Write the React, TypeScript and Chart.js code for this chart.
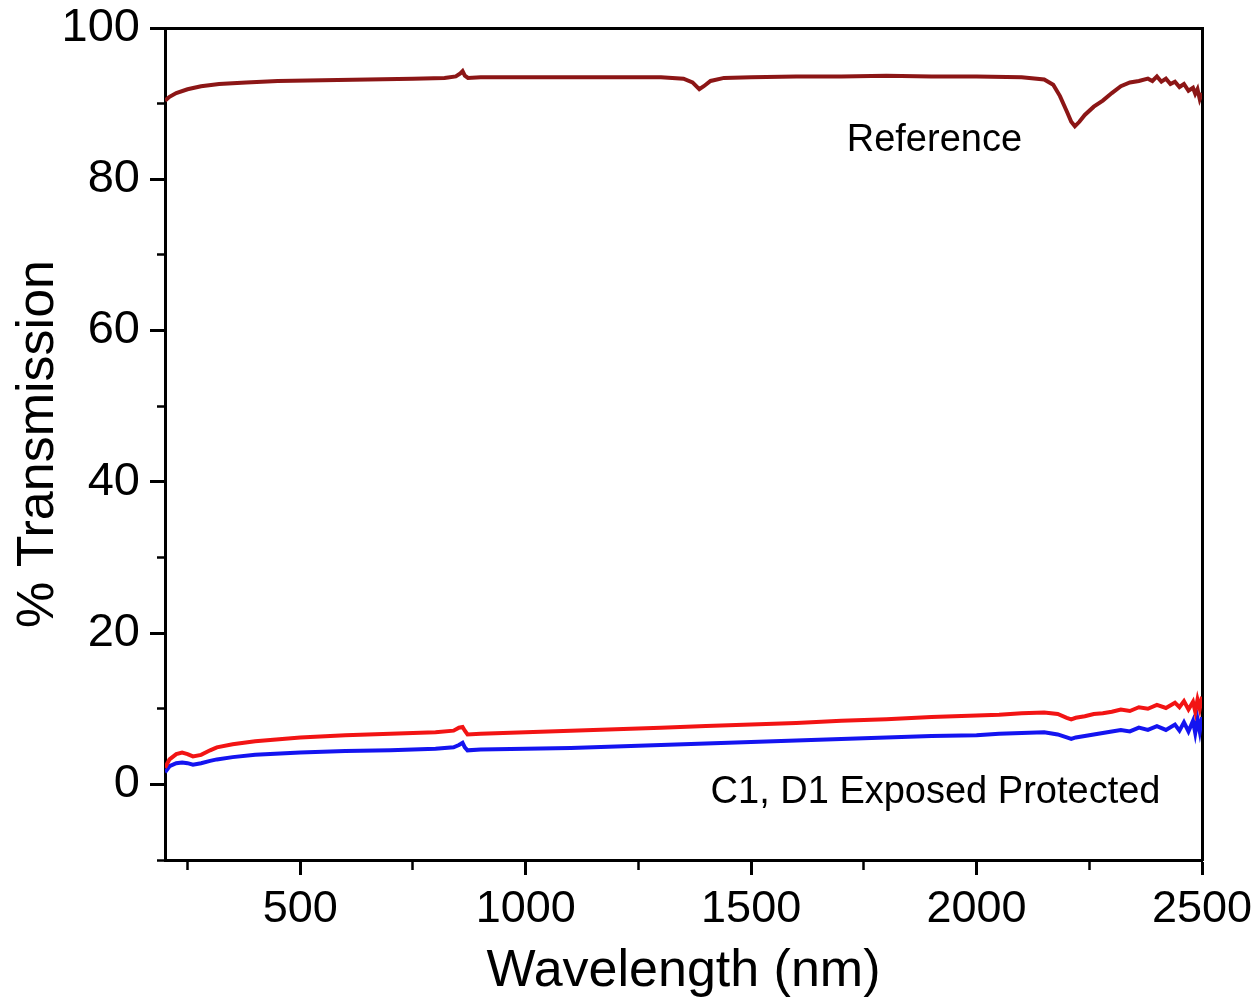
import React, { useEffect, useRef } from "react";
import { Chart, registerables } from "chart.js";

Chart.register(...registerables);

// ---- data ----
const refWavelength = [200, 210, 225, 250, 280, 320, 380, 450, 550, 650, 750, 820, 845, 855, 860, 865, 872, 900, 1000, 1100, 1200, 1300, 1350, 1370, 1385, 1395, 1410, 1440, 1500, 1600, 1700, 1800, 1900, 2000, 2100, 2150, 2170, 2185, 2200, 2210, 2218, 2228, 2240, 2260, 2280, 2300, 2320, 2340, 2360, 2380, 2390, 2400, 2410, 2420, 2430, 2440, 2450, 2460, 2470, 2480, 2485, 2490, 2495, 2500];
const refTransmission = [90.4, 90.9, 91.4, 91.9, 92.3, 92.6, 92.8, 93.0, 93.1, 93.2, 93.3, 93.4, 93.6, 94.0, 94.3, 93.7, 93.4, 93.5, 93.5, 93.5, 93.5, 93.5, 93.3, 92.8, 91.9, 92.3, 93.0, 93.4, 93.5, 93.6, 93.6, 93.7, 93.6, 93.6, 93.5, 93.2, 92.5, 91.0, 89.0, 87.6, 87.0, 87.6, 88.5, 89.6, 90.4, 91.4, 92.3, 92.8, 93.0, 93.3, 93.0, 93.6, 92.9, 93.3, 92.6, 92.9, 92.2, 92.6, 91.7, 92.1, 91.3, 91.9, 90.6, 91.4];

const sampleWavelength = [200, 210, 225, 238, 250, 262, 280, 300, 315, 350, 400, 500, 600, 700, 800, 840, 852, 860, 865, 871, 900, 1000, 1100, 1200, 1300, 1400, 1500, 1600, 1700, 1800, 1900, 2000, 2050, 2100, 2150, 2180, 2200, 2210, 2220, 2240, 2260, 2280, 2300, 2320, 2340, 2360, 2380, 2400, 2420, 2440, 2450, 2460, 2470, 2480, 2485, 2490, 2495, 2500];
const c1Transmission = [2.2, 3.3, 4.0, 4.2, 4.0, 3.7, 3.9, 4.5, 4.9, 5.3, 5.7, 6.2, 6.5, 6.7, 6.9, 7.1, 7.5, 7.6, 7.1, 6.6, 6.7, 6.9, 7.1, 7.3, 7.5, 7.7, 7.9, 8.1, 8.4, 8.6, 8.9, 9.1, 9.2, 9.4, 9.5, 9.3, 8.8, 8.6, 8.8, 9.0, 9.3, 9.4, 9.6, 9.9, 9.7, 10.2, 10.0, 10.5, 10.1, 10.8, 10.2, 11.0, 9.9, 10.9, 9.6, 11.2, 10.0, 11.6];
const d1Transmission = [1.6, 2.4, 2.8, 2.9, 2.8, 2.6, 2.8, 3.1, 3.3, 3.6, 3.9, 4.2, 4.4, 4.5, 4.7, 4.9, 5.2, 5.5, 4.9, 4.5, 4.6, 4.7, 4.8, 5.0, 5.2, 5.4, 5.6, 5.8, 6.0, 6.2, 6.4, 6.5, 6.7, 6.8, 6.9, 6.6, 6.2, 6.0, 6.2, 6.4, 6.6, 6.8, 7.0, 7.2, 7.0, 7.5, 7.2, 7.7, 7.2, 7.9, 7.1, 8.2, 7.0, 8.4, 6.8, 8.6, 7.0, 8.9];

const xTickValues = [250, 500, 750, 1000, 1250, 1500, 1750, 2000, 2250, 2500];
const xLabelValues = [500, 1000, 1500, 2000, 2500];
const yTickValues = [-10, 0, 10, 20, 30, 40, 50, 60, 70, 80, 90, 100];
const yLabelValues = [0, 20, 40, 60, 80, 100];

const textLabels = [
  { text: "Reference", x: 1712, y: 85.1 },
  { text: "C1, D1 Exposed Protected", x: 1410, y: -1.1 },
];

const FONT = "'Liberation Sans', Arial, sans-serif";

const toPoints = (xs: number[], ys: number[]) => xs.map((x, i) => ({ x, y: ys[i] }));

const textPlugin = {
  id: "textLabels",
  afterDatasetsDraw(chart: any) {
    const { ctx, scales } = chart;
    ctx.save();
    ctx.font = `38px ${FONT}`;
    ctx.fillStyle = "#000";
    ctx.textAlign = "left";
    ctx.textBaseline = "middle";
    for (const t of textLabels) {
      ctx.fillText(t.text, scales.x.getPixelForValue(t.x), scales.y.getPixelForValue(t.y));
    }
    ctx.restore();
  },
};

export default function App() {
  const ref = useRef<HTMLCanvasElement | null>(null);

  useEffect(() => {
    if (!ref.current) return;
    const chart = new Chart(ref.current, {
      type: "line",
      data: {
        datasets: [
          {
            label: "Reference",
            data: toPoints(refWavelength, refTransmission),
            borderColor: "#8c1616",
            borderWidth: 4,
            pointRadius: 0,
            tension: 0,
          },
          {
            label: "C1 Exposed",
            data: toPoints(sampleWavelength, c1Transmission),
            borderColor: "#f21414",
            borderWidth: 4,
            pointRadius: 0,
            tension: 0,
          },
          {
            label: "D1 Protected",
            data: toPoints(sampleWavelength, d1Transmission),
            borderColor: "#1414f0",
            borderWidth: 4,
            pointRadius: 0,
            tension: 0,
          },
        ],
      },
      options: {
        animation: false,
        responsive: true,
        maintainAspectRatio: false,
        layout: { padding: { top: 28, right: 57, left: 0, bottom: 0 } },
        plugins: { legend: { display: false }, tooltip: { enabled: false } },
        scales: {
          x: {
            type: "linear",
            position: "bottom",
            min: 200,
            max: 2500,
            afterBuildTicks: (s: any) => {
              s.ticks = xTickValues.map((v) => ({ value: v }));
            },
            afterFit: (s: any) => {
              s.height = 142;
              s.paddingLeft = 0;
              s.paddingRight = 0;
            },
            ticks: {
              autoSkip: false,
              maxRotation: 0,
              padding: 8,
              color: "#000",
              font: { family: FONT, size: 45 },
              callback: (v: any) => (xLabelValues.includes(Number(v)) ? String(v) : ""),
            },
            grid: {
              drawOnChartArea: false,
              drawTicks: true,
              tickLength: 15,
              tickColor: "#000",
              tickWidth: (c: any) => (xLabelValues.includes(c.tick?.value) ? 3 : 2.5),
              tickBorderDash: (c: any) => (xLabelValues.includes(c.tick?.value) ? [] : [8, 50]),
            },
            border: { display: true, color: "#000", width: 3 },
            title: {
              display: true,
              text: "Wavelength (nm)",
              color: "#000",
              font: { family: FONT, size: 52, lineHeight: 1 },
              padding: { top: 0, bottom: 4 },
            },
          },
          y: {
            type: "linear",
            position: "left",
            min: -10,
            max: 100,
            afterBuildTicks: (s: any) => {
              s.ticks = yTickValues.map((v) => ({ value: v }));
            },
            afterFit: (s: any) => {
              s.width = 165;
              s.paddingTop = 0;
              s.paddingBottom = 0;
            },
            ticks: {
              autoSkip: false,
              padding: 10,
              color: "#000",
              font: { family: FONT, size: 47 },
              callback: (v: any) => (yLabelValues.includes(Number(v)) ? String(v) : ""),
            },
            grid: {
              drawOnChartArea: false,
              drawTicks: true,
              tickLength: 15,
              tickColor: "#000",
              tickWidth: (c: any) => (yLabelValues.includes(c.tick?.value) ? 3 : 2.5),
              tickBorderDash: (c: any) => (yLabelValues.includes(c.tick?.value) ? [] : [0, 7, 8, 50]),
            },
            border: { display: true, color: "#000", width: 3 },
            title: {
              display: true,
              text: "% Transmission",
              color: "#000",
              font: { family: FONT, size: 52, lineHeight: 1 },
              padding: { top: 13, bottom: 0 },
            },
          },
          x2: {
            type: "linear",
            position: "top",
            min: 200,
            max: 2500,
            ticks: { display: false },
            grid: { display: false },
            border: { display: true, color: "#000", width: 3 },
            afterFit: (s: any) => {
              s.height = 0;
              s.paddingLeft = 0;
              s.paddingRight = 0;
            },
          },
          y2: {
            type: "linear",
            position: "right",
            min: -10,
            max: 100,
            ticks: { display: false },
            grid: { display: false },
            border: { display: true, color: "#000", width: 3 },
            afterFit: (s: any) => {
              s.width = 0;
              s.paddingTop = 0;
              s.paddingBottom = 0;
            },
          },
        },
      },
      plugins: [textPlugin],
    });
    return () => chart.destroy();
  }, []);

  return (
    <div style={{ position: "absolute", left: 0, top: 0, width: 1259, height: 1002, background: "#fff" }}>
      <canvas ref={ref} />
    </div>
  );
}
